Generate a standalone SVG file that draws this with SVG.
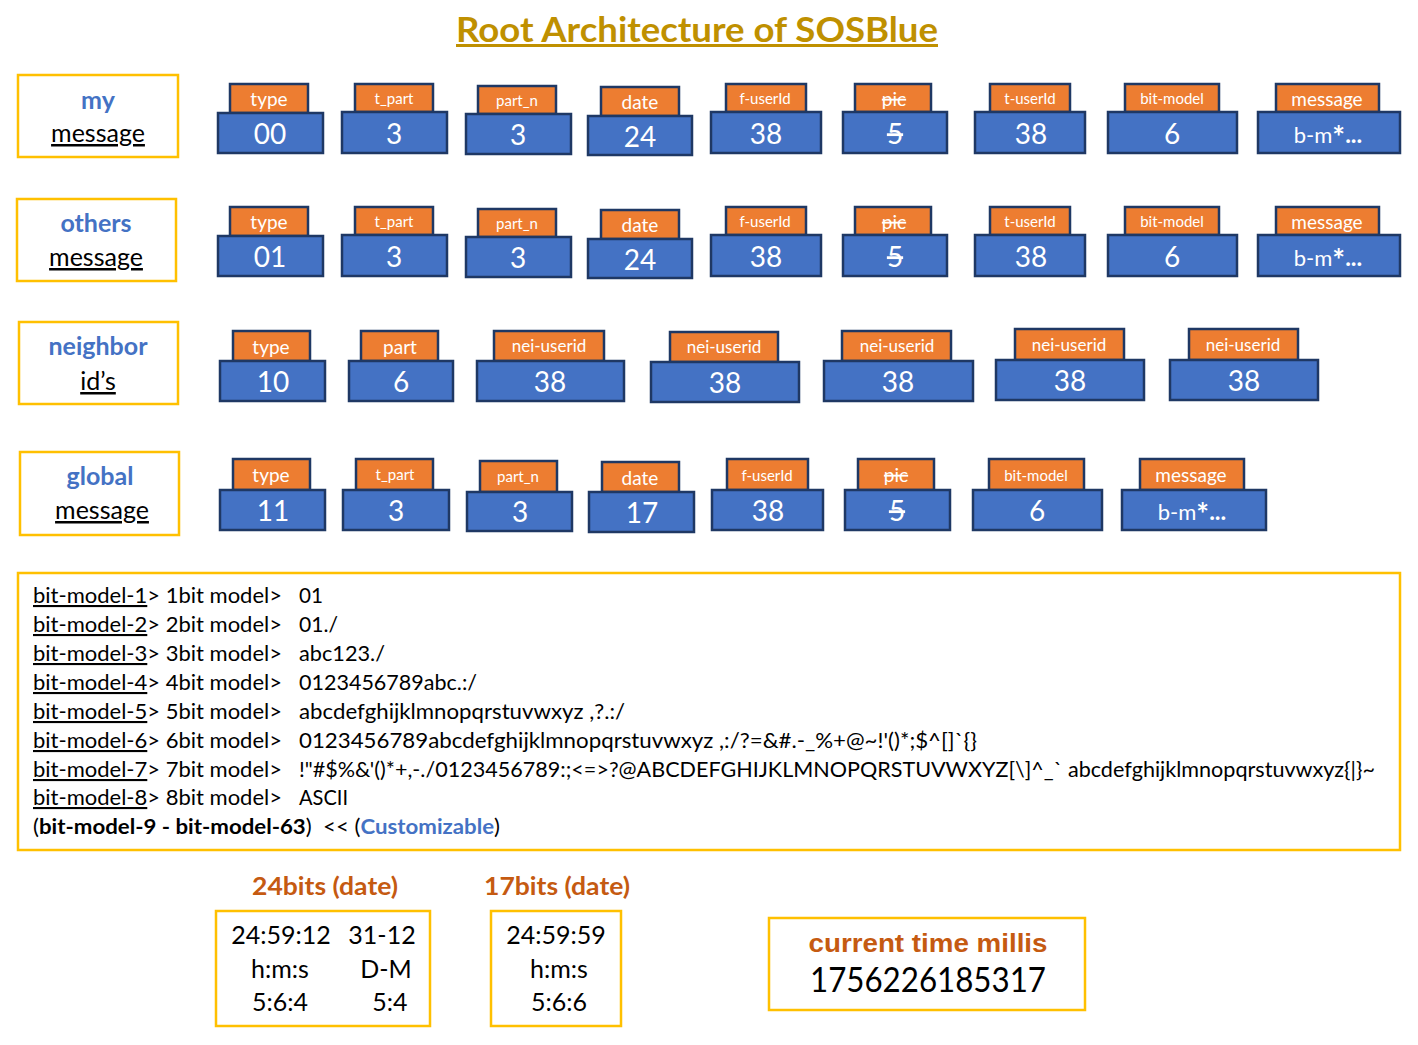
<svg xmlns="http://www.w3.org/2000/svg" width="1418" height="1045" viewBox="0 0 1418 1045">
<style>
text{font-family:Lato,"Open Sans","Liberation Sans",sans-serif}
.tab{fill:#ED7D31;stroke:#1F3864;stroke-width:2.5}
.body{fill:#4472C4;stroke:#1F3864;stroke-width:2.5}
.lbl{fill:#fff;stroke:#FFC000;stroke-width:2.5}
.tt{fill:#fff;font-size:19px;text-anchor:middle}
.ts{fill:#fff;font-size:15px;text-anchor:middle}
.tn{fill:#fff;font-size:17px;text-anchor:middle}
.num{fill:#fff;font-size:28px;text-anchor:middle}
.bm{fill:#fff;font-size:22px;text-anchor:middle}
.star{font-size:30px;font-weight:bold}
.dots{font-weight:bold;font-size:24px}
.strike{text-decoration:line-through}
.lh{fill:#4472C4;font-size:25px;font-weight:bold;text-anchor:middle}
.ll{fill:#000;font-size:25px;text-anchor:middle;text-decoration:underline}
.leg{fill:#000;font-size:21px}
.u{text-decoration:underline}
.dh{fill:#C55A11;font-size:24px;font-weight:bold;text-anchor:middle}
.dv{fill:#000;font-size:25px;text-anchor:middle}
.ctm{font-family:"Liberation Sans",Arial,sans-serif;font-size:26px;font-weight:bold;fill:#C55A11;text-anchor:middle}
</style>

<text x="697" y="42" font-size="34" font-weight="bold" fill="#BF9000" text-anchor="middle" textLength="482" lengthAdjust="spacingAndGlyphs">Root Architecture of SOSBlue</text>
<rect x="456" y="44" width="482" height="3" fill="#BF9000"/>

<g id="label-my"><rect class="lbl" x="18" y="75" width="160" height="82"/><text class="lh" x="98" y="109">my</text><text class="ll" x="98" y="142">message</text></g>
<g id="label-others"><rect class="lbl" x="17" y="199" width="159" height="82"/><text class="lh" x="96" y="232">others</text><text class="ll" x="96" y="266">message</text></g>
<g id="label-neighbor"><rect class="lbl" x="19" y="322" width="159" height="82"/><text class="lh" x="98" y="355">neighbor</text><text class="ll" x="98" y="390">id’s</text></g>
<g id="label-global"><rect class="lbl" x="20" y="452" width="159" height="83"/><text class="lh" x="100" y="485">global</text><text class="ll" x="102" y="519">message</text></g>

<!-- Row 1 -->
<g id="r1-type"><rect class="tab" x="230" y="84" width="78" height="29"/><rect class="body" x="218" y="113" width="105" height="40"/><text class="tt" x="269" y="106">type</text><text class="num" x="270" y="144">00</text></g>
<g id="r1-tpart"><rect class="tab" x="355" y="84" width="78" height="28"/><rect class="body" x="342" y="112" width="105" height="41"/><text class="ts" x="394" y="104">t_part</text><text class="num" x="394" y="144">3</text></g>
<g id="r1-partn"><rect class="tab" x="478" y="86" width="78" height="28"/><rect class="body" x="466" y="114" width="105" height="40"/><text class="ts" x="517" y="106">part_n</text><text class="num" x="518" y="145">3</text></g>
<g id="r1-date"><rect class="tab" x="601" y="87" width="78" height="29"/><rect class="body" x="588" y="116" width="104" height="39"/><text class="tt" x="640" y="109">date</text><text class="num" x="640" y="147">24</text></g>
<g id="r1-fuser"><rect class="tab" x="726" y="84" width="80" height="28"/><rect class="body" x="711" y="112" width="110" height="41"/><text class="ts" x="765" y="104">f-userId</text><text class="num" x="766" y="144">38</text></g>
<g id="r1-pic"><rect class="tab" x="855" y="84" width="76" height="28"/><rect class="body" x="843" y="112" width="104" height="41"/><text class="tt strike" x="894" y="106">pic</text><text class="num strike" x="895" y="144">5</text></g>
<g id="r1-tuser"><rect class="tab" x="990" y="84" width="80" height="28"/><rect class="body" x="975" y="112" width="110" height="41"/><text class="ts" x="1030" y="104">t-userId</text><text class="num" x="1031" y="144">38</text></g>
<g id="r1-bitmodel"><rect class="tab" x="1125" y="84" width="94" height="28"/><rect class="body" x="1108" y="112" width="129" height="41"/><text class="ts" x="1172" y="104">bit-model</text><text class="num" x="1172" y="144">6</text></g>
<g id="r1-message"><rect class="tab" x="1276" y="84" width="103" height="28"/><rect class="body" x="1258" y="112" width="142" height="41"/><text class="tt" x="1327" y="106">message</text><text class="bm" x="1328" y="143">b-m<tspan class="star" dy="5">*</tspan><tspan class="dots" dy="-5">...</tspan></text></g>

<!-- Row 2 -->
<g id="r2-type"><rect class="tab" x="230" y="207" width="78" height="29"/><rect class="body" x="218" y="236" width="105" height="40"/><text class="tt" x="269" y="229">type</text><text class="num" x="270" y="267">01</text></g>
<g id="r2-tpart"><rect class="tab" x="355" y="207" width="78" height="28"/><rect class="body" x="342" y="235" width="105" height="41"/><text class="ts" x="394" y="227">t_part</text><text class="num" x="394" y="267">3</text></g>
<g id="r2-partn"><rect class="tab" x="478" y="209" width="78" height="28"/><rect class="body" x="466" y="237" width="105" height="40"/><text class="ts" x="517" y="229">part_n</text><text class="num" x="518" y="268">3</text></g>
<g id="r2-date"><rect class="tab" x="601" y="210" width="78" height="29"/><rect class="body" x="588" y="239" width="104" height="39"/><text class="tt" x="640" y="232">date</text><text class="num" x="640" y="270">24</text></g>
<g id="r2-fuser"><rect class="tab" x="726" y="207" width="80" height="28"/><rect class="body" x="711" y="235" width="110" height="41"/><text class="ts" x="765" y="227">f-userId</text><text class="num" x="766" y="267">38</text></g>
<g id="r2-pic"><rect class="tab" x="855" y="207" width="76" height="28"/><rect class="body" x="843" y="235" width="104" height="41"/><text class="tt strike" x="894" y="229">pic</text><text class="num strike" x="895" y="267">5</text></g>
<g id="r2-tuser"><rect class="tab" x="990" y="207" width="80" height="28"/><rect class="body" x="975" y="235" width="110" height="41"/><text class="ts" x="1030" y="227">t-userId</text><text class="num" x="1031" y="267">38</text></g>
<g id="r2-bitmodel"><rect class="tab" x="1125" y="207" width="94" height="28"/><rect class="body" x="1108" y="235" width="129" height="41"/><text class="ts" x="1172" y="227">bit-model</text><text class="num" x="1172" y="267">6</text></g>
<g id="r2-message"><rect class="tab" x="1276" y="207" width="103" height="28"/><rect class="body" x="1258" y="235" width="142" height="41"/><text class="tt" x="1327" y="229">message</text><text class="bm" x="1328" y="266">b-m<tspan class="star" dy="5">*</tspan><tspan class="dots" dy="-5">...</tspan></text></g>

<!-- Row 3 -->
<g id="r3-type"><rect class="tab" x="233" y="331" width="77" height="30"/><rect class="body" x="220" y="361" width="105" height="40"/><text class="tt" x="271" y="354">type</text><text class="num" x="273" y="392">10</text></g>
<g id="r3-part"><rect class="tab" x="361" y="331" width="77" height="30"/><rect class="body" x="349" y="361" width="104" height="40"/><text class="tt" x="400" y="354">part</text><text class="num" x="401" y="392">6</text></g>
<g id="r3-nei1"><rect class="tab" x="494" y="331" width="110" height="30"/><rect class="body" x="477" y="361" width="147" height="40"/><text class="tn" x="549" y="352">nei-userid</text><text class="num" x="550" y="392">38</text></g>
<g id="r3-nei2"><rect class="tab" x="670" y="332" width="108" height="30"/><rect class="body" x="651" y="362" width="148" height="40"/><text class="tn" x="724" y="353">nei-userid</text><text class="num" x="725" y="393">38</text></g>
<g id="r3-nei3"><rect class="tab" x="842" y="331" width="109" height="30"/><rect class="body" x="824" y="361" width="149" height="40"/><text class="tn" x="897" y="352">nei-userid</text><text class="num" x="898" y="392">38</text></g>
<g id="r3-nei4"><rect class="tab" x="1015" y="329" width="109" height="31"/><rect class="body" x="996" y="360" width="148" height="40"/><text class="tn" x="1069" y="351">nei-userid</text><text class="num" x="1070" y="391">38</text></g>
<g id="r3-nei5"><rect class="tab" x="1189" y="329" width="109" height="31"/><rect class="body" x="1170" y="360" width="148" height="40"/><text class="tn" x="1243" y="351">nei-userid</text><text class="num" x="1244" y="391">38</text></g>

<!-- Row 4 -->
<g id="r4-type"><rect class="tab" x="233" y="459" width="77" height="31"/><rect class="body" x="220" y="490" width="105" height="40"/><text class="tt" x="271" y="482">type</text><text class="num" x="273" y="521">11</text></g>
<g id="r4-tpart"><rect class="tab" x="356" y="459" width="77" height="31"/><rect class="body" x="343" y="490" width="106" height="40"/><text class="ts" x="395" y="480">t_part</text><text class="num" x="396" y="521">3</text></g>
<g id="r4-partn"><rect class="tab" x="480" y="461" width="77" height="31"/><rect class="body" x="467" y="492" width="105" height="39"/><text class="ts" x="518" y="482">part_n</text><text class="num" x="520" y="522">3</text></g>
<g id="r4-date"><rect class="tab" x="602" y="462" width="77" height="30"/><rect class="body" x="589" y="492" width="105" height="40"/><text class="tt" x="640" y="485">date</text><text class="num" x="642" y="523">17</text></g>
<g id="r4-fuser"><rect class="tab" x="727" y="459" width="81" height="31"/><rect class="body" x="712" y="490" width="111" height="40"/><text class="ts" x="767" y="481">f-userId</text><text class="num" x="768" y="521">38</text></g>
<g id="r4-pic"><rect class="tab" x="858" y="459" width="76" height="31"/><rect class="body" x="845" y="490" width="105" height="40"/><text class="tt strike" x="896" y="482">pic</text><text class="num strike" x="897" y="521">5</text></g>
<g id="r4-bitmodel"><rect class="tab" x="989" y="459" width="95" height="31"/><rect class="body" x="973" y="490" width="129" height="40"/><text class="ts" x="1036" y="481">bit-model</text><text class="num" x="1037" y="521">6</text></g>
<g id="r4-message"><rect class="tab" x="1140" y="459" width="104" height="31"/><rect class="body" x="1122" y="490" width="144" height="40"/><text class="tt" x="1191" y="482">message</text><text class="bm" x="1192" y="520">b-m<tspan class="star" dy="5">*</tspan><tspan class="dots" dy="-5">...</tspan></text></g>

<g id="connectors"></g>

<!-- Legend -->
<g id="legend">
<rect class="lbl" x="18" y="573" width="1382" height="277"/>
<text class="leg" x="33" y="603" textLength="249" lengthAdjust="spacingAndGlyphs"><tspan class="u">bit-model-1</tspan>&gt; 1bit model&gt;</text>
<text class="leg" x="299" y="603" textLength="24" lengthAdjust="spacingAndGlyphs">01</text>
<text class="leg" x="33" y="632" textLength="249" lengthAdjust="spacingAndGlyphs"><tspan class="u">bit-model-2</tspan>&gt; 2bit model&gt;</text>
<text class="leg" x="299" y="632" textLength="39" lengthAdjust="spacingAndGlyphs">01./</text>
<text class="leg" x="33" y="661" textLength="249" lengthAdjust="spacingAndGlyphs"><tspan class="u">bit-model-3</tspan>&gt; 3bit model&gt;</text>
<text class="leg" x="299" y="661" textLength="86" lengthAdjust="spacingAndGlyphs">abc123./</text>
<text class="leg" x="33" y="690" textLength="249" lengthAdjust="spacingAndGlyphs"><tspan class="u">bit-model-4</tspan>&gt; 4bit model&gt;</text>
<text class="leg" x="299" y="690" textLength="178" lengthAdjust="spacingAndGlyphs">0123456789abc.:/</text>
<text class="leg" x="33" y="719" textLength="249" lengthAdjust="spacingAndGlyphs"><tspan class="u">bit-model-5</tspan>&gt; 5bit model&gt;</text>
<text class="leg" x="299" y="719" textLength="326" lengthAdjust="spacingAndGlyphs">abcdefghijklmnopqrstuvwxyz ,?.:/</text>
<text class="leg" x="33" y="748" textLength="249" lengthAdjust="spacingAndGlyphs"><tspan class="u">bit-model-6</tspan>&gt; 6bit model&gt;</text>
<text class="leg" x="299" y="748" textLength="678" lengthAdjust="spacingAndGlyphs">0123456789abcdefghijklmnopqrstuvwxyz ,:/?=&amp;#.-_%+@~!'()*;$^[]`{}</text>
<text class="leg" x="33" y="777" textLength="249" lengthAdjust="spacingAndGlyphs"><tspan class="u">bit-model-7</tspan>&gt; 7bit model&gt;</text>
<text class="leg" x="299" y="777" textLength="1076" lengthAdjust="spacingAndGlyphs">!"#$%&amp;'()*+,-./0123456789:;&lt;=&gt;?@ABCDEFGHIJKLMNOPQRSTUVWXYZ[\]^_` abcdefghijklmnopqrstuvwxyz{|}~</text>
<text class="leg" x="33" y="805" textLength="249" lengthAdjust="spacingAndGlyphs"><tspan class="u">bit-model-8</tspan>&gt; 8bit model&gt;</text>
<text class="leg" x="299" y="805" textLength="49" lengthAdjust="spacingAndGlyphs">ASCII</text>
<text class="leg" x="33" y="834" textLength="467" lengthAdjust="spacingAndGlyphs">(<tspan font-weight="bold">bit-model-9 - bit-model-63</tspan>)&#160; &lt;&lt; (<tspan font-weight="bold" fill="#4472C4">Customizable</tspan>)</text>
</g>

<!-- Date boxes -->
<g id="date24">
<text class="dh" x="325" y="895" textLength="146" lengthAdjust="spacingAndGlyphs">24bits (date)</text>
<rect class="lbl" x="216" y="911" width="214" height="115"/>
<text class="dv" x="281" y="944">24:59:12</text><text class="dv" x="382" y="944">31-12</text>
<text class="dv" x="280" y="978">h:m:s</text><text class="dv" x="386" y="978">D-M</text>
<text class="dv" x="280" y="1011">5:6:4</text><text class="dv" x="390" y="1011">5:4</text>
</g>
<g id="date17">
<text class="dh" x="557" y="895" textLength="146" lengthAdjust="spacingAndGlyphs">17bits (date)</text>
<rect class="lbl" x="491" y="911" width="130" height="115"/>
<text class="dv" x="556" y="944">24:59:59</text>
<text class="dv" x="559" y="978">h:m:s</text>
<text class="dv" x="559" y="1011">5:6:6</text>
</g>
<g id="millis">
<rect class="lbl" x="769" y="918" width="316" height="92"/>
<text class="ctm" x="928" y="952" textLength="239" lengthAdjust="spacingAndGlyphs">current time millis</text>
<text x="928" y="992" font-size="34" fill="#000" text-anchor="middle" textLength="236" lengthAdjust="spacingAndGlyphs">1756226185317</text>
</g>
</svg>
